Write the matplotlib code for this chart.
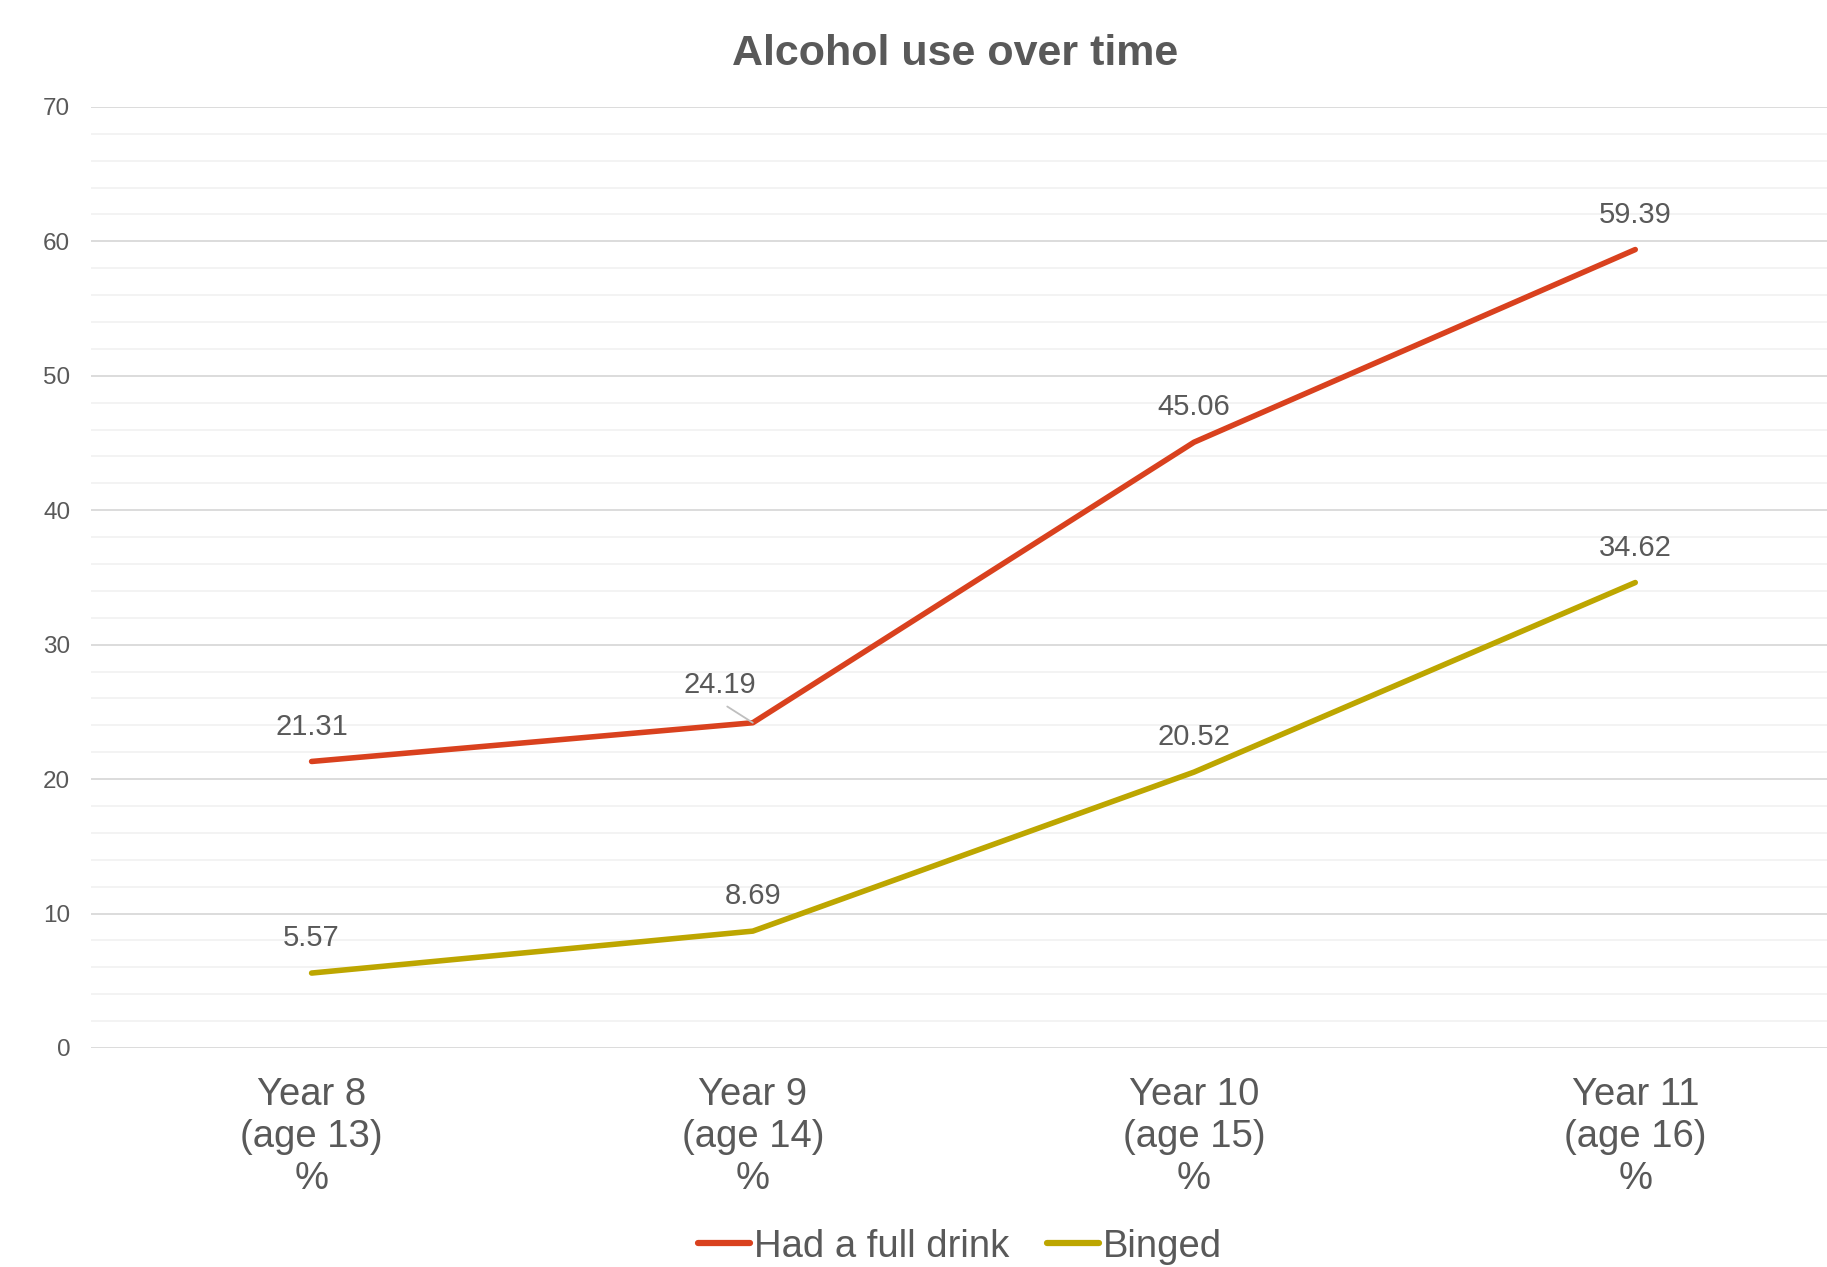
"""
Line chart: alcohol use over time by school year.
"""

import matplotlib.pyplot as plt
from matplotlib.ticker import MultipleLocator

plt.switch_backend("Agg")
plt.rcParams["font.family"] = ["Liberation Sans", "DejaVu Sans"]

categories = ["Year 8\n(age 13)\n%", "Year 9\n(age 14)\n%", "Year 10\n(age 15)\n%", "Year 11\n(age 16)\n%"]
full_drink = [21.31, 24.19, 45.06, 59.39]
binged = [5.57, 8.69, 20.52, 34.62]
series_names = ["Had a full drink", "Binged"]

TEXT = "#595959"
RED = "#D9411E"
OLIVE = "#BDA600"

fig = plt.figure(figsize=(18.27, 12.67), dpi=100)
ax = fig.add_axes([0.0498, 0.1729, 0.966, 0.7427])

x = list(range(len(categories)))
ax.plot(x, full_drink, color=RED, linewidth=4, solid_capstyle="round", label=series_names[0])
ax.plot(x, binged, color=OLIVE, linewidth=4, solid_capstyle="round", label=series_names[1])

# data labels
for series in (full_drink, binged):
    for i, v in enumerate(series):
        if series is full_drink and i == 1:
            ax.annotate(f"{v:.2f}", (i, v), xytext=(-24, 27), textcoords="offset points",
                        ha="center", va="center", fontsize=21, color=TEXT,
                        arrowprops=dict(arrowstyle="-", color="#BFBFBF", lw=1.3,
                                        relpos=(0.45, 0.0), shrinkA=6, shrinkB=0))
        else:
            ax.annotate(f"{v:.2f}", (i, v), xytext=(0, 25), textcoords="offset points",
                        ha="center", va="center", fontsize=21, color=TEXT)

ax.set_xlim(-0.5, 3.5)
ax.set_ylim(0, 70)
ax.yaxis.set_major_locator(MultipleLocator(10))
ax.yaxis.set_minor_locator(MultipleLocator(2))
ax.grid(which="major", axis="y", color="#D9D9D9", linewidth=1.3)
ax.grid(which="minor", axis="y", color="#F2F2F2", linewidth=1.3)
ax.set_axisbelow(True)
for s in ax.spines.values():
    s.set_visible(False)

ax.set_xticks(x)
ax.set_xticklabels(categories, fontsize=27.5, color=TEXT, linespacing=1.21)
ax.tick_params(axis="x", length=0, pad=21)
ax.tick_params(axis="y", which="both", length=0, pad=15, labelsize=17.5, labelcolor=TEXT)

fig.text(0.523, 0.957, "Alcohol use over time", ha="center", va="center",
         fontsize=31, fontweight="bold", color=TEXT)

leg = fig.legend(loc="center", bbox_to_anchor=(0.5255, 0.016), ncol=2, frameon=False,
                 fontsize=27.5, handlelength=1.35, handletextpad=0.1, columnspacing=1.0)
for t in leg.get_texts():
    t.set_color(TEXT)
for h in leg.legend_handles:
    h.set_linewidth(4.5)

fig.savefig("out.png", dpi=100)
plt.close(fig)
